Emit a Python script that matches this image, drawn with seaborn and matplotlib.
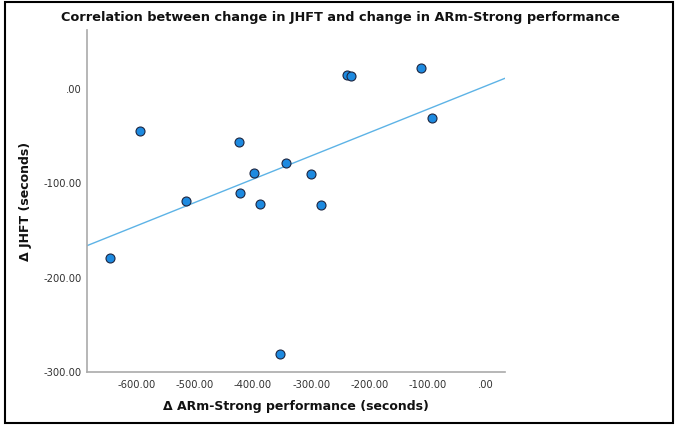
import matplotlib
matplotlib.use("Agg")
import matplotlib.pyplot as plt
import seaborn as sns
import pandas as pd
from matplotlib.patches import Rectangle
from matplotlib.ticker import FuncFormatter

delta_arm = [-646.6, -594, -516, -424, -422, -399, -388.5, -344, -353, -300.5, -283, -238, -232, -110, -91]
delta_jhft = [-179.5, -44.5, -118.8, -56.5, -110, -89, -122, -78, -281, -90, -123, 15, 14, 22, -30.7]
x_ticks = [-600, -500, -400, -300, -200, -100, 0]
y_ticks = [-300, -200, -100, 0]

df = pd.DataFrame({"arm": delta_arm, "jhft": delta_jhft})

sns.set_theme(style="white")
plt.rcParams['font.family'] = ['DejaVu Sans']

fig = plt.figure(figsize=(6.77, 4.29), dpi=100)
ax = fig.add_axes([87/677, 1 - 372/429, (505-87)/677, (372-30)/429])
ax.set_xlim(-686, 34)
ax.set_ylim(-300, 62.5)

sns.regplot(data=df, x="arm", y="jhft", ax=ax, ci=None, truncate=False, scatter=False,
            line_kws=dict(color="#5db3e6", lw=1.0))
sns.scatterplot(data=df, x="arm", y="jhft", ax=ax, s=42, color="#1d8ae0",
                edgecolor="#1c2540", linewidth=0.8, zorder=3)
ax.set_xlim(-686, 34)
ax.set_ylim(-300, 62.5)

def fmt(v, pos):
    if abs(v) < 1e-9:
        return ".00"
    return f"{v:.2f}"

ax.set_xticks(x_ticks)
ax.set_yticks(y_ticks)
ax.xaxis.set_major_formatter(FuncFormatter(fmt))
ax.yaxis.set_major_formatter(FuncFormatter(fmt))
ax.tick_params(axis="both", labelsize=7.2, colors="#333333", length=0)
ax.tick_params(axis="x", pad=6)
ax.tick_params(axis="y", pad=4)

for s in ["top", "right"]:
    ax.spines[s].set_visible(False)
for s in ["left", "bottom"]:
    ax.spines[s].set_color("#aaaaaa")
    ax.spines[s].set_linewidth(1.2)

ax.set_xlabel("Δ ARm-Strong performance (seconds)", fontsize=9, fontweight="bold",
              color="#111111", labelpad=7)
ax.set_ylabel("Δ JHFT (seconds)", fontsize=9, fontweight="bold", color="#111111", labelpad=8)

fig.text(340/677, 1 - 18/429, "Correlation between change in JHFT and change in ARm-Strong performance",
         ha="center", va="center", fontsize=9.3, fontweight="bold", color="#111111")

fig.patches.append(Rectangle((5/677, 1 - 423/429), (673-5)/677, (423-2)/429,
                             transform=fig.transFigure, fill=False, edgecolor="black", lw=1.5))

fig.savefig("out.png", dpi=100)
